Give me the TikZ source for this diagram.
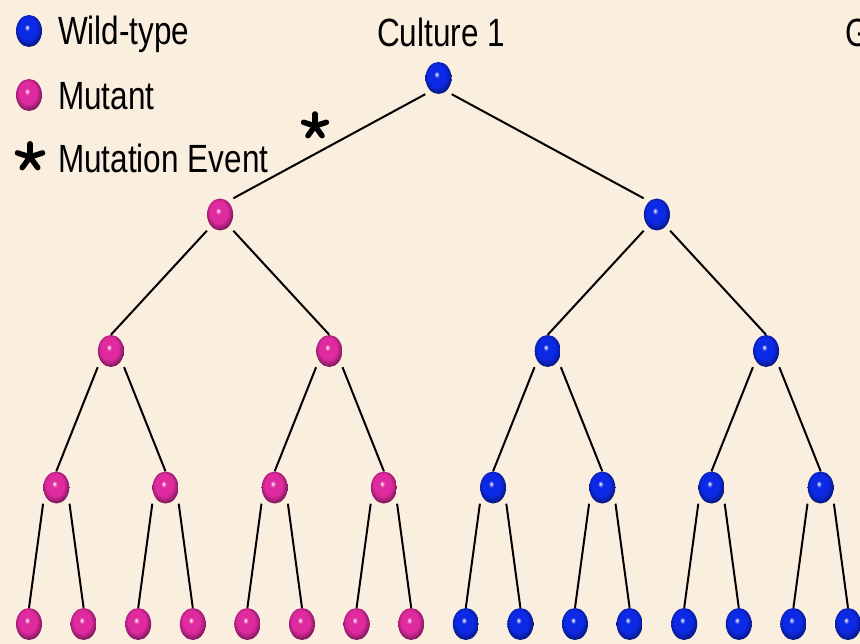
\documentclass[tikz,border=0pt]{standalone}
\usepackage{graphicx}
\usepackage{fontspec}
\setmainfont{Liberation Sans}
\definecolor{paper}{HTML}{FAEEDF}
\definecolor{wildblue}{HTML}{0C2AE6}
\definecolor{mutpink}{HTML}{E02AA0}
\newcommand{\tallish}[1]{\scalebox{1}[1.25]{#1}}
\pgfdeclareradialshading{wildball}{\pgfqpoint{-4bp}{6bp}}{color(0bp)=(white); color(2bp)=(wildblue!40!white);
  color(5bp)=(wildblue); color(17bp)=(wildblue); color(24bp)=(wildblue!70!black); color(31bp)=(wildblue!35!black); color(50bp)=(black)}
\pgfdeclareradialshading{mutball}{\pgfqpoint{-4bp}{6bp}}{color(0bp)=(white); color(2bp)=(mutpink!40!white);
  color(5bp)=(mutpink); color(17bp)=(mutpink); color(24bp)=(mutpink!70!black); color(31bp)=(mutpink!35!black); color(50bp)=(black)}
\tikzset{
  cell/.style={rectangle, minimum width=26pt, minimum height=32pt, inner sep=0pt,
    path picture={\shade[shading=#1] (path picture bounding box.center) ellipse (13pt and 16pt);}},
  wild/.style={cell=wildball},
  mutant/.style={cell=mutball},
  branch/.style={draw=black, line width=2pt},
  lbl/.style={anchor=base west, inner sep=0pt, font=\fontsize{31.5}{38}\selectfont},
  mutmark/.pic={
    \foreach \a in {-90,-18,-162,54,126}
      \draw[line width=5.5pt, line cap=round] (0,0) -- (\a:12);
  }
}
\begin{document}
\begin{tikzpicture}[x=1pt,y=-1pt]
        \fill[paper] (0,0) rectangle (860,644);
        \useasboundingbox (0,0) rectangle (860,644);

        % legend
        \node[wild] (key-wild) at (29,31) {};
        \node[mutant] (key-mut) at (29,95) {};
        \pic[scale=1.1] at (30,157) {mutmark};
        \node[lbl] (lbl-wild) at (58,45) {\tallish{Wild-type}};
        \node[lbl] (lbl-mut) at (58,110) {\tallish{Mutant}};
        \node[lbl] (lbl-event) at (58,173) {\tallish{Mutation Event}};

        % titles
        \node[lbl, anchor=base] (title) at (441,47) {\tallish{Culture 1}};
        \node[lbl] (title-next) at (845,47) {\tallish{G}};

        % \draw cells, level by level
        \foreach \lvl in {0,...,4} {
          \pgfmathtruncatemacro\last{2^\lvl-1}
          \foreach \k in {0,...,\last} {
            \pgfmathsetmacro\xpos{1.7+873.6/2^\lvl*(\k+0.5)}
            \pgfmathsetmacro\ypos{78+136.5*\lvl}
            \pgfmathtruncatemacro\ismut{(\lvl>0)&&(\k<2^(\lvl-1))}
            \ifnum\ismut=1
              \node[mutant] (n-\lvl-\k) at (\xpos,\ypos) {};
            \else
              \node[wild] (n-\lvl-\k) at (\xpos,\ypos) {};
            \fi
          }
        }

        % \draw branches from each mother cell
        \foreach \lvl in {1,...,4} {
          \pgfmathtruncatemacro\last{2^\lvl-1}
          \pgfmathtruncatemacro\up{\lvl-1}
          \foreach \k in {0,...,\last} {
            \pgfmathtruncatemacro\mom{floor(\k/2)}
            \pgfmathtruncatemacro\side{mod(\k,2)}
            \ifnum\side=0 \def\from{south west}\def\to{north east}\else
              \def\from{south east}\def\to{north west}\fi
            \ifnum\lvl>1 \def\to{north}\fi
            \draw[branch] (n-\up-\mom.\from) -- (n-\lvl-\k.\to);
          }
        }

        % mutation event
        \pic at (315,126) {mutmark};
    \end{tikzpicture}
\end{document}
